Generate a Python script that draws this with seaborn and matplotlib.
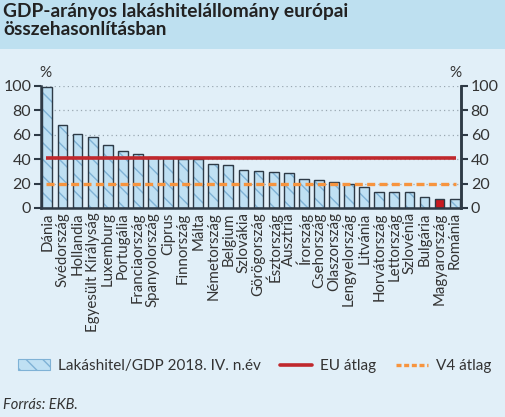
import matplotlib
matplotlib.use("Agg")
import matplotlib.pyplot as plt
import seaborn as sns
from matplotlib.patches import Patch, Rectangle
from matplotlib.lines import Line2D

# data
countries = ['Dánia', 'Svédország', 'Hollandia', 'Egyesült Királyság', 'Luxemburg',
             'Portugália', 'Franciaország', 'Spanyolország', 'Ciprus', 'Finnország',
             'Málta', 'Németország', 'Belgium', 'Szlovákia', 'Görögország',
             'Észtország', 'Ausztria', 'Írország', 'Csehország', 'Olaszország',
             'Lengyelország', 'Litvánia', 'Horvátország', 'Lettország', 'Szlovénia',
             'Bulgária', 'Magyarország', 'Románia']
values = [99.5, 68, 61, 58, 51.5, 46.5, 44, 42, 41, 40.5,
          40, 36, 35, 31.3, 30.5, 29.4, 28.6, 24, 23, 21.5,
          20, 17, 13.5, 13.5, 13.5, 9.3, 7.4, 7.4]
eu_avg = 41
v4_avg = 20
yticks = [0, 20, 40, 60, 80, 100]
highlight = 'Magyarország'

bg = '#E1EFF8'
band = '#BEE0F0'
bar_fill = '#BFE0F3'
hatch_col = '#7FB2D6'
edge_dark = '#2E3A46'
red = '#C0282D'
orange = '#F7943E'
hu_red = '#C8191F'
txt = '#333333'

sns.set_style('white')
plt.rcParams['font.family'] = ['Lato', 'DejaVu Sans']
plt.rcParams['hatch.linewidth'] = 1.0

fig = plt.figure(figsize=(5.05, 4.17), dpi=100, facecolor=bg)
fig.patches.append(Rectangle((0, 0.8825), 1, 0.1175, transform=fig.transFigure,
                             facecolor=band, edgecolor='none', zorder=0))
fig.text(0.006, 0.994, "GDP-arányos lakáshitelállomány európai\nösszehasonlításban",
         ha='left', va='top', fontsize=13.8, fontweight='bold', color='#222222',
         linespacing=1.1)

ax = fig.add_axes([0.0812, 0.5012, 0.8317, 0.2926])
ax.set_facecolor(bg)

palette = {c: (hu_red if c == highlight else bar_fill) for c in countries}
sns.barplot(x=countries, y=values, hue=countries, palette=palette, legend=False,
            width=0.65, saturation=1, ax=ax, linewidth=0, zorder=2)
for p, c in zip(ax.patches, countries):
    if c != highlight:
        p.set_hatch('\\\\')
        p.set_edgecolor(hatch_col)
# dark outlines on top
ax.bar(range(len(countries)), values, width=0.65, fill=False,
       edgecolor=edge_dark, linewidth=1.0, zorder=3)

n = len(countries)
ax.hlines(eu_avg, -0.1, n - 0.9, color=red, linewidth=2.6, zorder=4)
ax.hlines(v4_avg, -0.1, n - 0.9, color=orange, linewidth=2.4,
          linestyles=(0, (2.4, 1.3)), zorder=4)

ax.set_xlim(-0.42, n - 0.58)
ax.set_ylim(0, 100)
ax.set_yticks(yticks)
ax.yaxis.grid(True, linestyle=(0, (1, 2.5)), color='#9AA8B2', linewidth=0.9)
ax.set_axisbelow(True)

ax.set_xticks(range(n))
ax.set_xticklabels(countries, rotation=90, fontsize=10.8, color=txt)
ax.set_xticks([i + 0.5 for i in range(n - 1)], minor=True)
ax.tick_params(axis='x', which='major', length=0, pad=3)
ax.tick_params(axis='x', which='minor', length=5, width=1.5, color=edge_dark, direction='out')
ax.tick_params(axis='y', labelsize=11.5, labelcolor=txt, length=5, width=1.5,
               color=edge_dark, direction='out', pad=2)
ax.set_xlabel('')
ax.set_ylabel('')

for s in ['left', 'right', 'bottom']:
    ax.spines[s].set_visible(True)
    ax.spines[s].set_color(edge_dark)
    ax.spines[s].set_linewidth(1.8)
ax.spines['top'].set_visible(False)

ax2 = ax.twinx()
ax2.set_ylim(0, 100)
ax2.set_yticks(yticks)
ax2.tick_params(axis='y', labelsize=11.5, labelcolor=txt, length=5, width=1.5,
                color=edge_dark, direction='out', pad=2)
for s in ['left', 'top', 'bottom']:
    ax2.spines[s].set_visible(False)
ax2.spines['right'].set_color(edge_dark)
ax2.spines['right'].set_linewidth(1.8)

fig.text(45 / 505, 1 - 73 / 417, '%', ha='center', va='center', fontsize=11, color=txt)
fig.text(455 / 505, 1 - 73 / 417, '%', ha='center', va='center', fontsize=11, color=txt)

handles = [
    Patch(facecolor=bar_fill, edgecolor=hatch_col, hatch='\\\\', linewidth=0.8),
    Line2D([0], [0], color=red, linewidth=2.6),
    Line2D([0], [0], color=orange, linewidth=2.4, linestyle=(0, (1.5, 0.8))),
]
labels = ['Lakáshitel/GDP 2018. IV. n.év', 'EU átlag', 'V4 átlag']
fig.legend(handles, labels, loc='center', bbox_to_anchor=(0.504, 1 - 366 / 417), ncol=3,
           frameon=False, fontsize=11, handlelength=2.1, handletextpad=0.55,
           columnspacing=1.25, labelcolor=txt)

fig.text(0.006, 1 - 405 / 417, 'Forrás: EKB.', ha='left', va='center', fontsize=10.5,
         style='italic', color=txt)

fig.savefig('out.png', dpi=100, facecolor=bg)
